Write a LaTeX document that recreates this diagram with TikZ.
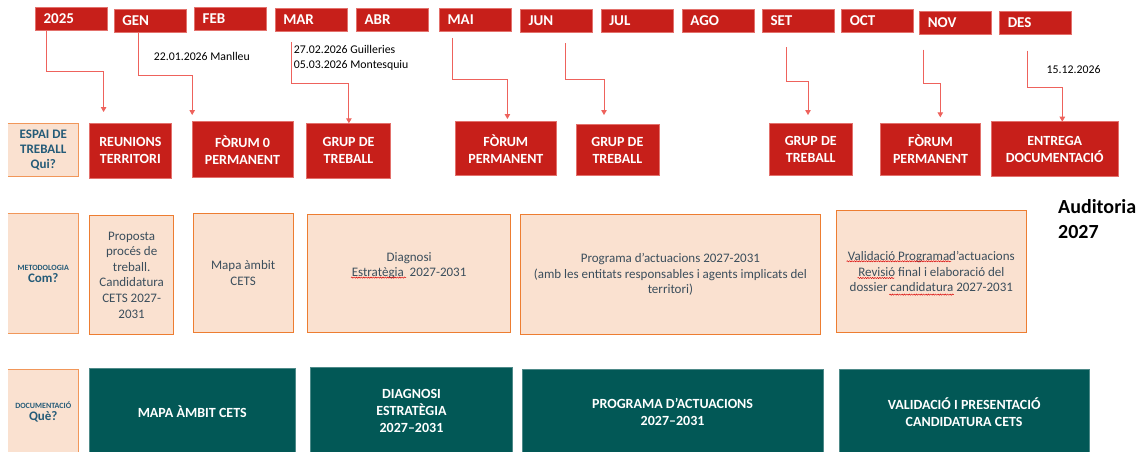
\documentclass[tikz,border=0pt]{standalone}
\usepackage{fontspec}
\setmainfont{Carlito}
\usetikzlibrary{arrows.meta,calc,decorations.pathmorphing}
\definecolor{cred}{HTML}{C71F1A}
\definecolor{credb}{HTML}{E3716C}
\definecolor{conncol}{HTML}{EE625C}
\definecolor{peach}{HTML}{FAE1D0}
\definecolor{orangeb}{HTML}{ED7D31}
\definecolor{teal}{HTML}{025856}
\definecolor{slate}{HTML}{3B4E5C}
\definecolor{lblblue}{HTML}{245B78}
\tikzset{
  month/.style={fill=cred, draw=credb, line width=0.5pt, text=white,
    font=\bfseries\fontsize{15}{18}\selectfont, minimum height=23pt,
    inner xsep=8.5pt, inner ysep=0pt, text width=55pt, align=left, anchor=north west},
  redbox/.style={fill=cred, draw=credb, line width=0.5pt, text=white,
    font=\bfseries\fontsize{14}{17}\selectfont, inner sep=0pt, align=center},
  peachbox/.style={fill=peach, draw=orangeb, line width=0.9pt, text=slate,
    font=\fontsize{13}{15.6}\selectfont, inner sep=0pt, align=center},
  lblbox/.style={fill=peach, draw=none, text=lblblue, inner sep=0pt, align=center},
  lblborder/.style={draw=orangeb!80!white, line width=0.9pt},
  tealbox/.style={fill=teal, draw=teal!70!white, line width=0.5pt, text=white,
    font=\bfseries\fontsize{14}{17}\selectfont, inner sep=0pt, align=center},
  conn/.style={draw=conncol, line width=0.9pt, -{Triangle[width=5.5pt,length=5pt]}},
  datetxt/.style={text=black, font=\fontsize{11.8}{14.3}\selectfont, inner sep=0pt, align=left, anchor=west},
  squig/.style={draw=red!85!black, line width=0.45pt, decorate,
    decoration={snake, amplitude=0.6pt, segment length=2.4pt}}
}
\begin{document}
\begin{tikzpicture}[x=1pt,y=-1pt]
\useasboundingbox[fill=white] (0,0) rectangle (1146,451);

% ---- months
\node[month] (m2025) at (34.8,7.3) {2025};
\node[month] (mgen) at (113.6,9.3) {GEN};
\node[month] (mfeb) at (193.9,7.3) {FEB};
\node[month] (mmar) at (274.5,8.3) {MAR};
\node[month] (mabr) at (355.9,8.3) {ABR};
\node[month] (mmai) at (438.8,8.3) {MAI};
\node[month] (mjun) at (519.8,9.3) {JUN};
\node[month] (mjul) at (600.5,9.3) {JUL};
\node[month] (mago) at (681.7,9.3) {AGO};
\node[month] (mset) at (761.8,9.3) {SET};
\node[month] (moct) at (841,9.3) {OCT};
\node[month] (mnov) at (919,11.3) {NOV};
\node[month] (mdes) at (999,11.3) {DES};

% ---- dates
\node[datetxt] (d1) at (153.7,56) {22.01.2026 Manlleu};
\node[datetxt] (d2) at (293.7,57.9) {27.02.2026 Guilleries\\05.03.2026 Montesquiu};
\node[datetxt] (d3) at (1046.5,69.3) {15.12.2026};

% ---- row labels
\node[lblbox, minimum width=70.5, minimum height=52,
  font=\bfseries\fontsize{13}{15}\selectfont] (lqui) at (43.25,150) {ESPAI DE\\TREBALL\\Qui?};
\node[lblbox, minimum width=70.5, minimum height=119.3] (lcom) at (43.25,273.65)
  {{\bfseries\fontsize{8}{9}\selectfont METODOLOGIA}\\{\bfseries\fontsize{13}{15.5}\selectfont Com?}};
\node[lblbox, minimum width=70.5, minimum height=85.7] (lque) at (43.25,412.15)
  {{\bfseries\fontsize{8}{9}\selectfont DOCUMENTACIÓ}\\{\bfseries\fontsize{13}{15}\selectfont Què?}};
\draw[lblborder] (lqui.north west) -- (lqui.north east) -- (lqui.south east) -- (lqui.south west);
\draw[lblborder] (lcom.north west) -- (lcom.north east) -- (lcom.south east) -- (lcom.south west);
\draw[lblborder] (lque.north west) -- (lque.north east) -- (lque.south east);

% ---- row 2 (Qui?)
\node[redbox, minimum width=82.7, minimum height=55] (r1) at (130.35,150.8) {REUNIONS\\TERRITORI};
\node[redbox, minimum width=101, minimum height=56] (r2) at (242.5,149.7) {FÒRUM 0\\PERMANENT};
\node[redbox, minimum width=84.1, minimum height=55] (r3) at (348.55,150.8) {GRUP DE\\TREBALL};
\node[redbox, minimum width=101.7, minimum height=54] (r4) at (505.85,148.7) {FÒRUM\\PERMANENT};
\node[redbox, minimum width=83, minimum height=51.4] (r5) at (617.4,150) {GRUP DE\\TREBALL};
\node[redbox, minimum width=82.5, minimum height=52.4] (r6) at (810.75,149.5) {GRUP DE\\TREBALL};
\node[redbox, minimum width=100.3, minimum height=52.4] (r7) at (930.55,149.5) {FÒRUM\\PERMANENT};
\node[redbox, minimum width=126.6, minimum height=55] (r8) at (1054.7,149.2) {ENTREGA\\DOCUMENTACIÓ};

% ---- connectors
\coordinate (h1) at (103.6,71);   \coordinate (t1) at (103.6,112);
\coordinate (h2) at (192.2,75);   \coordinate (t2) at (192.2,115);
\coordinate (h3) at (348.9,83.3); \coordinate (t3) at (348.9,123.3);
\coordinate (h4) at (507.4,79.3); \coordinate (t4) at (507.4,119);
\coordinate (h5) at (604,79.3);   \coordinate (t5) at (604,115);
\coordinate (h6) at (808,81.7);   \coordinate (t6) at (808,115);
\coordinate (h7) at (940.3,83.3); \coordinate (t7) at (940.3,117.3);
\coordinate (h8) at (1062.3,87.3);\coordinate (t8) at (1062.3,121.7);
\draw[conn] ($(m2025.south west)+(11.5,0)$) |- (h1) -- (t1);
\draw[conn] ($(mgen.south west)+(24.4,0)$) |- (h2) -- (t2);
\draw[conn] ($(mmar.south west)+(17,10.4)$) |- (h3) -- (t3);
\draw[conn] ($(mmai.south west)+(14.1,6)$) |- (h4) -- (t4);
\draw[conn] ($(mjun.south west)+(46.1,10.4)$) |- (h5) -- (t5);
\draw[conn] ($(mset.south west)+(25.1,14.4)$) |- (h6) -- (t6);
\draw[conn] ($(mnov.south west)+(4.4,14.7)$) |- (h7) -- (t7);
\draw[conn] ($(mdes.south west)+(28.4,15.7)$) |- (h8) -- (t8);

% ---- row 3 (Com?)
\node[peachbox, minimum width=84.1, minimum height=119.4] (c1) at (131.65,275)
  {Proposta\\procés de\\treball.\\Candidatura\\CETS 2027-\\2031};
\node[peachbox, minimum width=99.7, minimum height=119.4] (c2) at (243.15,273) {Mapa àmbit\\CETS};
\node[peachbox, minimum width=202.6, minimum height=118.4] (c3) at (409.1,273.5) {};
\node[text=slate, font=\fontsize{13}{15.6}\selectfont, inner sep=0pt, align=center] (c3t) at (409.1,265.5)
  {Diagnosi\\Estratègia\ \ 2027-2031};
\node[peachbox, minimum width=300.8, minimum height=120.4] (c4) at (670.4,274.5)
  {Programa d’actuacions 2027-2031\\(amb les entitats responsables i agents implicats del\\territori)};
\node[peachbox, minimum width=189.3, minimum height=122] (c5) at (931.35,271.7)
  {Validació Programad’actuacions\\Revisió final i elaboració del\\dossier candidatura 2027-2031};

% spell-check squiggles
\draw[squig] (351,277.6) -- (406,277.6);
\draw[squig] (846.5,261.3) -- (951,261.3);
\draw[squig] (857.5,278) -- (894.5,278);
\draw[squig] (889.3,294.6) -- (953.8,294.6);

% ---- Auditoria
\node[text=black, font=\bfseries\fontsize{20}{25}\selectfont, inner sep=0pt, align=left, anchor=west]
  (aud) at (1058,219.2) {Auditoria\\2027};

% ---- row 4 (Què?)
\node[tealbox, minimum width=205.9, minimum height=86.7] (q1) at (192.25,411.65) {MAPA ÀMBIT CETS};
\node[tealbox, minimum width=202.2, minimum height=87.7] (q2) at (411.5,411.15) {DIAGNOSI\\ESTRATÈGIA\\2027–2031};
\node[tealbox, minimum width=300.8, minimum height=85.7] (q3) at (672.6,412.15) {PROGRAMA D’ACTUACIONS\\2027–2031};
\node[tealbox, minimum width=249.7, minimum height=85.7] (q4) at (964.15,412.15) {VALIDACIÓ I PRESENTACIÓ\\CANDIDATURA CETS};
\end{tikzpicture}
\end{document}
